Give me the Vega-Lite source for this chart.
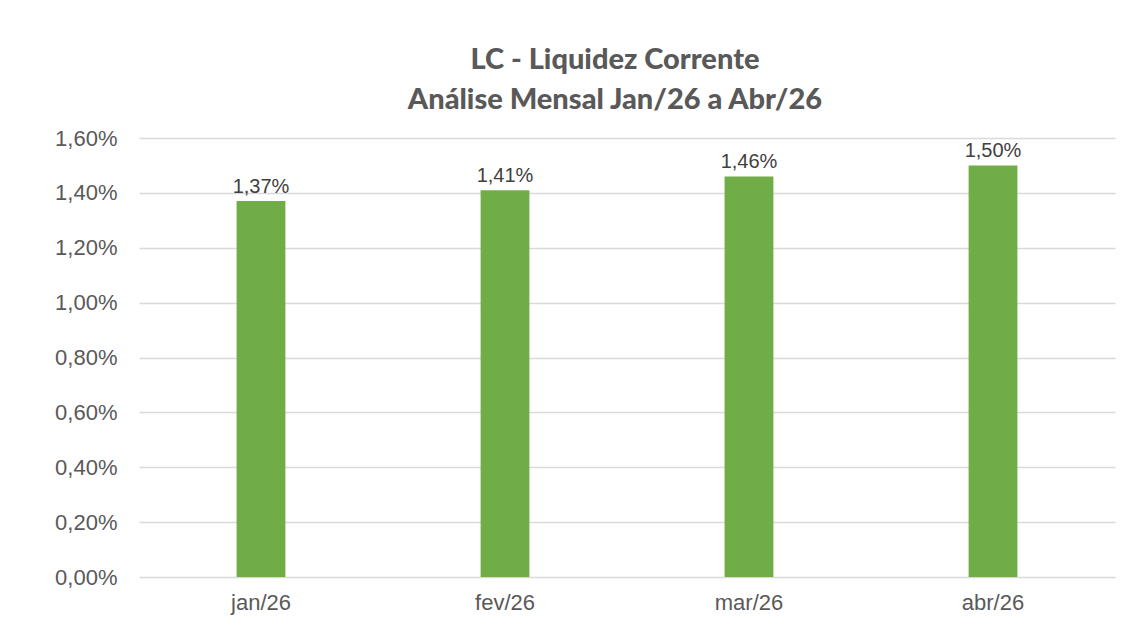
{
  "$schema": "https://vega.github.io/schema/vega-lite/v6.json",
  "width": 976,
  "height": 439,
  "autosize": {"type": "none"},
  "padding": {"left": 139, "top": 138, "right": 19, "bottom": 48},
  "background": "white",
  "config": {
    "locale": {"number": {"decimal": ",", "thousands": ".", "grouping": [3], "currency": ["R$", ""]}},
    "view": {"stroke": null},
    "font": "Liberation Sans"
  },
  "title": {
    "text": ["LC - Liquidez Corrente", "Análise Mensal Jan/26 a Abr/26"],
    "font": "Lato",
    "fontSize": 29,
    "fontWeight": 900,
    "color": "#595959",
    "lineHeight": 40,
    "anchor": "middle",
    "dx": -12,
    "offset": 12
  },
  "data": {
    "values": [
      {"mes": "jan/26", "lc": 0.0137},
      {"mes": "fev/26", "lc": 0.0141},
      {"mes": "mar/26", "lc": 0.0146},
      {"mes": "abr/26", "lc": 0.0150}
    ]
  },
  "encoding": {
    "x": {
      "field": "mes",
      "type": "nominal",
      "sort": null,
      "title": null,
      "scale": {"paddingInner": 0.8, "paddingOuter": 0.4},
      "axis": {
        "labelAngle": 0,
        "labelFontSize": 22,
        "labelColor": "#595959",
        "labelPadding": 15,
        "ticks": false,
        "domain": false,
        "grid": false
      }
    },
    "y": {
      "field": "lc",
      "type": "quantitative",
      "title": null,
      "scale": {"domain": [0, 0.016], "nice": false},
      "axis": {
        "values": [0, 0.002, 0.004, 0.006, 0.008, 0.01, 0.012, 0.014, 0.016],
        "format": ".2%",
        "labelFontSize": 22,
        "labelColor": "#595959",
        "labelPadding": 22,
        "ticks": false,
        "domain": false,
        "gridColor": "#D9D9D9",
        "gridWidth": 1.3
      }
    }
  },
  "layer": [
    {"mark": {"type": "bar", "color": "#70AD47"}},
    {
      "mark": {"type": "text", "baseline": "alphabetic", "dy": -8, "fontSize": 20, "color": "#404040", "font": "Liberation Sans"},
      "encoding": {"text": {"field": "lc", "type": "quantitative", "format": ".2%"}}
    }
  ]
}
